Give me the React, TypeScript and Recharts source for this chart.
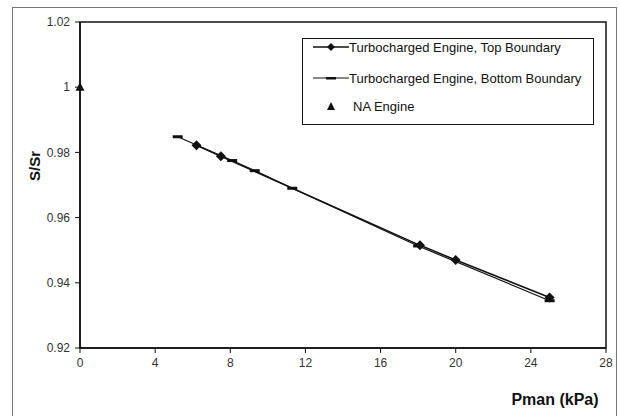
import React from 'react';
import {
  ComposedChart,
  Scatter,
  XAxis,
  YAxis,
  ReferenceArea,
  Legend,
  Label,
} from 'recharts';

const topBoundary = [
  { x: 6.2, y: 0.9822 },
  { x: 7.5, y: 0.9788 },
  { x: 18.1, y: 0.9515 },
  { x: 20, y: 0.947 },
  { x: 25, y: 0.9355 },
];

const bottomBoundary = [
  { x: 5.2, y: 0.9848 },
  { x: 8.1, y: 0.9775 },
  { x: 9.3, y: 0.9744 },
  { x: 11.3, y: 0.969 },
  { x: 18, y: 0.9513 },
  { x: 25, y: 0.9345 },
];

const naEngine = [{ x: 0, y: 1.0 }];

const xTicks = [0, 4, 8, 12, 16, 20, 24, 28];
const yTicks = [0.92, 0.94, 0.96, 0.98, 1.0, 1.02];

const seriesNames = [
  'Turbocharged Engine, Top Boundary',
  'Turbocharged Engine, Bottom Boundary',
  'NA Engine',
];

const FONT = '"Liberation Sans", Arial, sans-serif';
const INK = '#111';

function Diamond(props: any) {
  const { cx, cy } = props;
  if (cx == null || cy == null) return null;
  const r = 5;
  return <path d={`M${cx},${cy - r}L${cx + r},${cy}L${cx},${cy + r}L${cx - r},${cy}Z`} fill={INK} />;
}

function Dash(props: any) {
  const { cx, cy } = props;
  if (cx == null || cy == null) return null;
  return <rect x={cx - 5} y={cy - 1.5} width={10} height={3} fill={INK} />;
}

function Triangle(props: any) {
  const { cx, cy } = props;
  if (cx == null || cy == null) return null;
  return <path d={`M${cx},${cy - 5}L${cx + 4.5},${cy + 3.5}L${cx - 4.5},${cy + 3.5}Z`} fill={INK} />;
}

const rowTops = [0, 31, 59];

function LegendBox() {
  const icons = [
    <svg width={36} height={10} key="a">
      <line x1={0} y1={5} x2={36} y2={5} stroke={INK} strokeWidth={1.5} />
      <path d="M18,1L22,5L18,9L14,5Z" fill={INK} />
    </svg>,
    <svg width={36} height={10} key="b">
      <line x1={0} y1={5} x2={36} y2={5} stroke={INK} strokeWidth={1.2} />
      <rect x={13} y={4} width={10} height={2.5} fill={INK} />
    </svg>,
    <svg width={30} height={10} key="c">
      <path d="M18,1L22,9L14,9Z" fill={INK} />
    </svg>,
  ];
  return (
    <div
      style={{
        position: 'relative',
        width: 292,
        height: 87,
        border: `1.5px solid ${INK}`,
        background: '#fff',
        boxSizing: 'border-box',
        fontFamily: FONT,
        fontSize: 13,
        color: INK,
      }}
    >
      {seriesNames.map((n, i) => (
        <div
          key={n}
          style={{ position: 'absolute', left: 10, top: rowTops[i], display: 'flex', alignItems: 'center', height: 16, whiteSpace: 'nowrap' }}
        >
          {icons[i]}
          <span style={{ marginLeft: i === 2 ? 10 : 0 }}>{n}</span>
        </div>
      ))}
    </div>
  );
}

export default function App() {
  return (
    <div style={{ position: 'absolute', left: 0, top: 0, width: 619, height: 416, background: '#fff', overflow: 'hidden' }}>
      <div
        style={{
          position: 'absolute',
          left: 12,
          top: 7,
          width: 605,
          height: 420,
          border: '1px solid #777',
          boxSizing: 'border-box',
        }}
      />
      <div style={{ position: 'absolute', left: 0, top: 0 }}>
        <ComposedChart
          width={619}
          height={416}
          margin={{ top: 22, right: 13, left: 20, bottom: 38 }}
          style={{ fontFamily: FONT }}
        >
          <XAxis
            type="number"
            dataKey="x"
            domain={[0, 28]}
            ticks={xTicks}
            interval={0}
            height={30}
            tickSize={5}
            tickMargin={5}
            tick={{ fontSize: 12, fill: '#333', fontFamily: FONT }}
            axisLine={{ stroke: INK, strokeWidth: 1.5 }}
            tickLine={{ stroke: INK }}
          >
            <Label
              content={() => (
                <text x={555} y={405} textAnchor="middle" fontSize={16} fontWeight="bold" fontFamily={FONT} fill={INK}>
                  Pman (kPa)
                </text>
              )}
            />
          </XAxis>
          <YAxis
            type="number"
            dataKey="y"
            domain={[0.92, 1.02]}
            ticks={yTicks}
            interval={0}
            width={60}
            tickSize={5}
            tickMargin={5}
            tickFormatter={(v: number) => String(Number(v.toFixed(2)))}
            tick={{ fontSize: 12, fill: '#333', fontFamily: FONT }}
            axisLine={{ stroke: INK, strokeWidth: 1.5 }}
            tickLine={{ stroke: INK }}
          >
            <Label
              content={() => (
                <text
                  x={40}
                  y={166}
                  textAnchor="middle"
                  fontSize={15}
                  fontWeight="bold"
                  fontFamily={FONT}
                  fill={INK}
                  transform="rotate(-90 40 166)"
                >
                  S/Sr
                </text>
              )}
            />
          </YAxis>
          <ReferenceArea x1={0} x2={28} y1={0.92} y2={1.02} fill="none" stroke={INK} strokeWidth={1.5} fillOpacity={0} />
          <Scatter
            name={seriesNames[1]}
            data={bottomBoundary}
            line={{ stroke: INK, strokeWidth: 1.2 }}
            lineType="joint"
            shape={Dash}
            isAnimationActive={false}
          />
          <Scatter
            name={seriesNames[0]}
            data={topBoundary}
            line={{ stroke: INK, strokeWidth: 1.5 }}
            lineType="joint"
            shape={Diamond}
            isAnimationActive={false}
          />
          <Scatter name={seriesNames[2]} data={naEngine} shape={Triangle} isAnimationActive={false} />
          <Legend
            layout="horizontal"
            verticalAlign="middle"
            align="center"
            content={() => <LegendBox />}
            wrapperStyle={{ position: 'absolute', left: 302, top: 38, width: 292, height: 87 }}
          />
        </ComposedChart>
      </div>
    </div>
  );
}
